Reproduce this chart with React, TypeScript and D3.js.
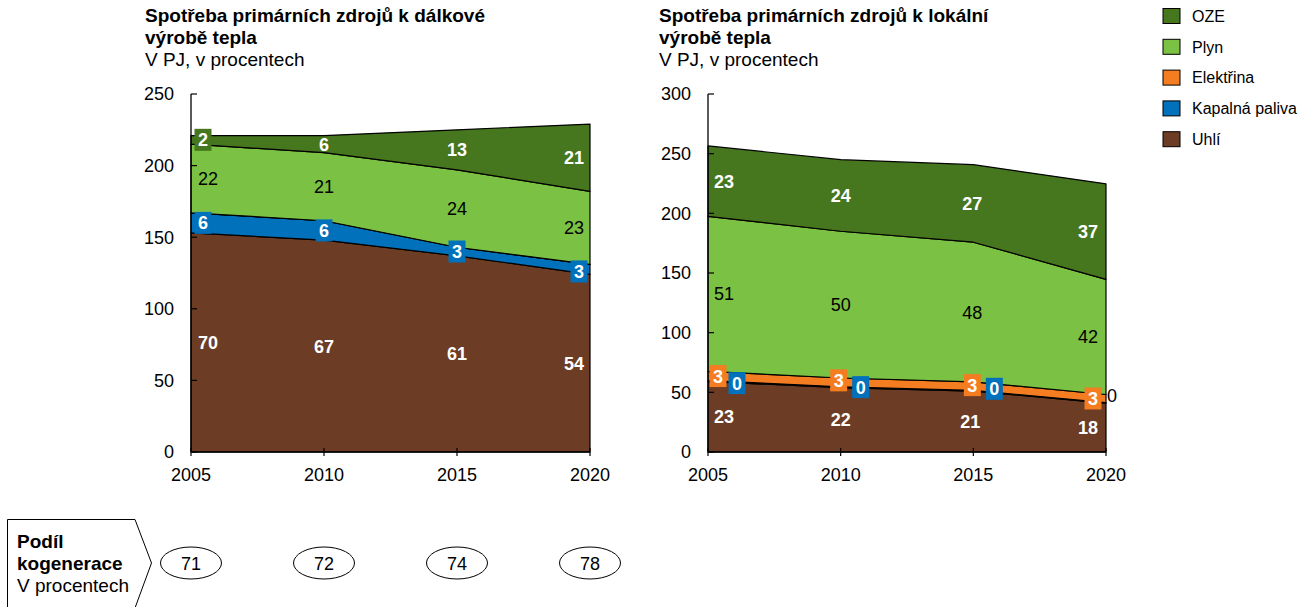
import React from "react";
import * as d3 from "d3";

// ---------- DATA ----------
const years = [2005, 2010, 2015, 2020];
const seriesKeys = ["Uhlí", "Kapalná paliva", "Elektřina", "Plyn", "OZE"];
const legendOrder = ["OZE", "Plyn", "Elektřina", "Kapalná paliva", "Uhlí"];

// District heating (PJ)
const districtUhli = [153, 148, 137, 124];
const districtKapalna = [14, 13.5, 6, 7];
const districtElektrina = [0, 0, 0, 0];
const districtPlyn = [48, 47.5, 54, 51];
const districtOZE = [6, 12, 28, 47];
// District heating (%) labels
const districtUhliPct = [70, 67, 61, 54];
const districtKapalnaPct = [6, 6, 3, 3];
const districtPlynPct = [22, 21, 24, 23];
const districtOZEPct = [2, 6, 13, 21];

// Local heating (PJ)
const localUhli = [59, 54, 51, 41];
const localKapalna = [0.8, 0.7, 0.6, 0.5];
const localElektrina = [7.7, 7.3, 7.2, 6.7];
const localPlyn = [130, 123, 117, 96.5];
const localOZE = [59, 60, 65, 80];
// Local heating (%) labels
const localUhliPct = [23, 22, 21, 18];
const localKapalnaPct = [0, 0, 0, 0];
const localElektrinaPct = [3, 3, 3, 3];
const localPlynPct = [51, 50, 48, 42];
const localOZEPct = [23, 24, 27, 37];

const leftTicks = [0, 50, 100, 150, 200, 250];
const rightTicks = [0, 50, 100, 150, 200, 250, 300];

const cogeneration = [71, 72, 74, 78];

// ---------- STYLE ----------
const colors: Record<string, string> = {
  "Uhlí": "#6d3c24",
  "Kapalná paliva": "#0071ba",
  "Elektřina": "#f47d22",
  "Plyn": "#7bc143",
  "OZE": "#46771f",
};
const FONT = "'Liberation Sans', Arial, Helvetica, sans-serif";

type Kind = "white" | "black" | "box" | "none";

interface ChartCfg {
  title1: string;
  title2: string;
  subtitle: string;
  titleX: number;
  x0: number;
  x1: number;
  yMax: number;
  ticks: number[];
  values: Record<string, number[]>;
  pct: Record<string, number[]>;
  kinds: Record<string, Kind[]>;
  dx: Record<string, number[]>;
  dy: Record<string, number[]>;
}

const Y_TOP = 94;
const Y_BOTTOM = 452;

const leftCfg: ChartCfg = {
  title1: "Spotřeba primárních zdrojů k dálkové",
  title2: "výrobě tepla",
  subtitle: "V PJ, v procentech",
  titleX: 145,
  x0: 191,
  x1: 590,
  yMax: 250,
  ticks: leftTicks,
  values: {
    "Uhlí": districtUhli,
    "Kapalná paliva": districtKapalna,
    "Elektřina": districtElektrina,
    "Plyn": districtPlyn,
    "OZE": districtOZE,
  },
  pct: {
    "Uhlí": districtUhliPct,
    "Kapalná paliva": districtKapalnaPct,
    "Elektřina": [0, 0, 0, 0],
    "Plyn": districtPlynPct,
    "OZE": districtOZEPct,
  },
  kinds: {
    "Uhlí": ["white", "white", "white", "white"],
    "Kapalná paliva": ["box", "box", "box", "box"],
    "Elektřina": ["none", "none", "none", "none"],
    "Plyn": ["black", "black", "black", "black"],
    "OZE": ["box", "white", "white", "white"],
  },
  dx: {
    "Uhlí": [17, 0, 0, -16],
    "Kapalná paliva": [12, 0, 0, -11],
    "Elektřina": [0, 0, 0, 0],
    "Plyn": [17, 0, 0, -16],
    "OZE": [12, 0, 0, -16],
  },
  dy: {
    "Uhlí": [0, 0, 0, 0],
    "Kapalná paliva": [0, 0, 0, 2],
    "Elektřina": [0, 0, 0, 0],
    "Plyn": [0, 0, 0, 0],
    "OZE": [0, 0, 0, 0],
  },
};

const rightCfg: ChartCfg = {
  title1: "Spotřeba primárních zdrojů k lokální",
  title2: "výrobě tepla",
  subtitle: "V PJ, v procentech",
  titleX: 659,
  x0: 708,
  x1: 1106,
  yMax: 300,
  ticks: rightTicks,
  values: {
    "Uhlí": localUhli,
    "Kapalná paliva": localKapalna,
    "Elektřina": localElektrina,
    "Plyn": localPlyn,
    "OZE": localOZE,
  },
  pct: {
    "Uhlí": localUhliPct,
    "Kapalná paliva": localKapalnaPct,
    "Elektřina": localElektrinaPct,
    "Plyn": localPlynPct,
    "OZE": localOZEPct,
  },
  kinds: {
    "Uhlí": ["white", "white", "white", "white"],
    "Kapalná paliva": ["box", "box", "box", "black"],
    "Elektřina": ["box", "box", "box", "box"],
    "Plyn": ["black", "black", "black", "black"],
    "OZE": ["white", "white", "white", "white"],
  },
  dx: {
    "Uhlí": [16, 0, -3, -18],
    "Kapalná paliva": [29, 20, 21, 6],
    "Elektřina": [10, -2, -1, -13],
    "Plyn": [16, 0, -1, -18],
    "OZE": [16, 0, -1, -18],
  },
  dy: {
    "Uhlí": [0, 0, 0, 0],
    "Kapalná paliva": [2, 0, -2, -7],
    "Elektřina": [0, -2, -1, 0],
    "Plyn": [0, 0, 0, 0],
    "OZE": [0, 0, 0, 0],
  },
};

function StackChart({ cfg }: { cfg: ChartCfg }) {
  const x = d3.scaleLinear().domain([years[0], years[years.length - 1]]).range([cfg.x0, cfg.x1]);
  const y = d3.scaleLinear().domain([0, cfg.yMax]).range([Y_BOTTOM, Y_TOP]);
  const rows = years.map((yr, i) => {
    const r: any = { year: yr };
    seriesKeys.forEach((k) => (r[k] = cfg.values[k][i]));
    return r;
  });
  const stacked = d3.stack<any>().keys(seriesKeys)(rows);
  const area = d3
    .area<any>()
    .x((d) => x(d.data.year))
    .y0((d) => y(d[0]))
    .y1((d) => y(d[1]));

  const labels: React.ReactNode[] = [];
  stacked.forEach((layer) => {
    const key = layer.key;
    layer.forEach((d, i) => {
      const kind = cfg.kinds[key][i];
      if (kind === "none") return;
      const cx = x(years[i]) + cfg.dx[key][i];
      const cy = y((d[0] + d[1]) / 2) + cfg.dy[key][i];
      const txt = String(cfg.pct[key][i]);
      if (kind === "box") {
        labels.push(
          <g key={`${key}-${i}`}>
            <rect x={cx - 8.5} y={cy - 11} width={17} height={22} fill={colors[key]} />
            <text x={cx} y={cy} dy="0.36em" textAnchor="middle" fill="#fff" fontWeight="bold" fontSize={18}>
              {txt}
            </text>
          </g>
        );
      } else {
        labels.push(
          <text
            key={`${key}-${i}`}
            x={cx}
            y={cy}
            dy="0.36em"
            textAnchor="middle"
            fill={kind === "white" ? "#fff" : "#000"}
            fontWeight={kind === "white" ? "bold" : "normal"}
            fontSize={18}
          >
            {txt}
          </text>
        );
      }
    });
  });

  return (
    <g fontFamily={FONT}>
      <text x={cfg.titleX} y={22} fontSize={19} fontWeight="bold" fill="#000">
        {cfg.title1}
      </text>
      <text x={cfg.titleX} y={44} fontSize={19} fontWeight="bold" fill="#000">
        {cfg.title2}
      </text>
      <text x={cfg.titleX} y={66} fontSize={19} fill="#000">
        {cfg.subtitle}
      </text>
      {stacked.map((layer) => (
        <path key={layer.key} d={area(layer) || ""} fill={colors[layer.key]} stroke="#000" strokeWidth={1.2} strokeLinejoin="round" />
      ))}
      {/* y axis */}
      <line x1={cfg.x0} x2={cfg.x0} y1={Y_TOP} y2={Y_BOTTOM} stroke="#000" strokeWidth={1.3} />
      {cfg.ticks.map((t) => (
        <g key={t}>
          <line x1={cfg.x0} x2={cfg.x0 + 6} y1={y(t)} y2={y(t)} stroke="#000" strokeWidth={1.2} />
          <text x={cfg.x0 - 17} y={y(t)} dy="0.36em" textAnchor="end" fontSize={18} fill="#000">
            {t}
          </text>
        </g>
      ))}
      {/* x axis */}
      <line x1={cfg.x0} x2={cfg.x1} y1={Y_BOTTOM} y2={Y_BOTTOM} stroke="#000" strokeWidth={1.3} />
      {years.map((yr) => (
        <g key={yr}>
          <line x1={x(yr)} x2={x(yr)} y1={Y_BOTTOM - 4} y2={Y_BOTTOM + 4} stroke="#000" strokeWidth={1.2} />
          <text x={x(yr)} y={Y_BOTTOM + 23} dy="0.36em" textAnchor="middle" fontSize={18} fill="#000">
            {yr}
          </text>
        </g>
      ))}
      {labels}
    </g>
  );
}

function Legend() {
  const y0 = 16;
  const step = 30.8;
  return (
    <g fontFamily={FONT}>
      {legendOrder.map((k, i) => (
        <g key={k} transform={`translate(0,${y0 + i * step})`}>
          <rect x={1163} y={-7.5} width={17} height={15} fill={colors[k]} stroke="#000" strokeWidth={1} />
          <text x={1192} y={0} dy="0.36em" fontSize={16} fill="#000">
            {k}
          </text>
        </g>
      ))}
    </g>
  );
}

function Cogeneration() {
  const x = d3.scaleLinear().domain([years[0], years[years.length - 1]]).range([leftCfg.x0, leftCfg.x1]);
  return (
    <g fontFamily={FONT}>
      <path d="M7.5,519.5 H135 L151.5,563 L135,608 H7.5 Z" fill="#fff" stroke="#000" strokeWidth={1} />
      <text x={17} y={548} fontSize={19} fontWeight="bold" fill="#000">
        Podíl
      </text>
      <text x={17} y={570} fontSize={19} fontWeight="bold" fill="#000">
        kogenerace
      </text>
      <text x={17} y={592} fontSize={19} fill="#000">
        V procentech
      </text>
      {cogeneration.map((v, i) => (
        <g key={i}>
          <ellipse cx={x(years[i])} cy={563} rx={30.5} ry={16} fill="#fff" stroke="#000" strokeWidth={1} />
          <text x={x(years[i])} y={564} dy="0.36em" textAnchor="middle" fontSize={18} fill="#000">
            {v}
          </text>
        </g>
      ))}
    </g>
  );
}

export default function App() {
  return (
    <svg
      width={1306}
      height={607}
      viewBox="0 0 1306 607"
      style={{ position: "absolute", left: 0, top: 0, background: "#fff" }}
    >
      <rect width={1306} height={607} fill="#fff" />
      <StackChart cfg={leftCfg} />
      <StackChart cfg={rightCfg} />
      <Legend />
      <Cogeneration />
    </svg>
  );
}
